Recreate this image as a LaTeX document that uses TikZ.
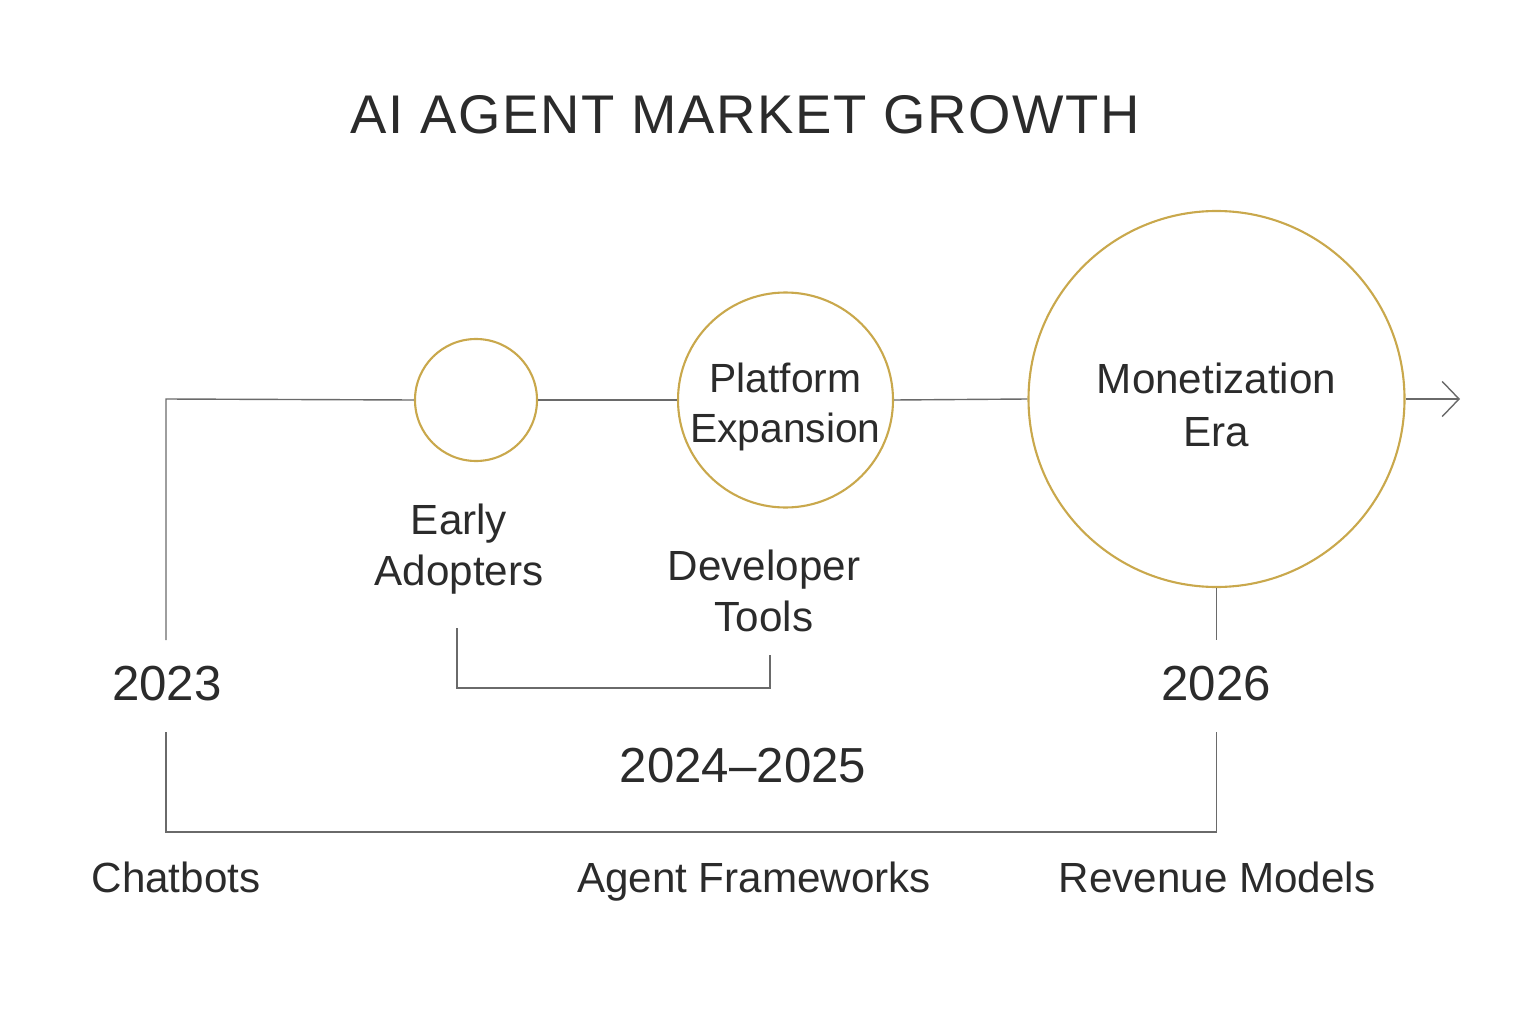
\documentclass[tikz,border=0pt]{standalone}
\usepackage{fontspec}
\setmainfont{Liberation Sans}
\newfontfamily\titlefont[LetterSpace=3]{Liberation Sans}
\usetikzlibrary{arrows.meta}
\definecolor{gold}{HTML}{C9A84C}
\definecolor{ink}{HTML}{2B2B2B}
\definecolor{rule}{HTML}{6A6A6A}
\tikzset{
  stage/.style={circle,draw=gold,line width=0.6pt,inner sep=0pt},
  lbl/.style={text=ink,align=center,font=\fontsize{12}{14.4}\selectfont},
  yr/.style={text=ink,font=\fontsize{14}{16}\selectfont},
  line/.style={draw=rule,line width=0.4pt}
}
\begin{document}
\begin{tikzpicture}
  \useasboundingbox (0,0) rectangle (15.36,10.24);
  \node[text=ink,font=\titlefont\fontsize{15.5}{18}\selectfont] (title) at (7.45,9.09) {AI AGENT MARKET GROWTH};

  % stages on the main line
  \node[stage,minimum size=1.22cm] (early) at (4.76,6.24) {};
  \node[stage,minimum size=2.15cm] (platform) at (7.855,6.24) {};
  \node[stage,minimum size=3.76cm] (money) at (12.165,6.25) {};
  \node[lbl,font=\fontsize{11.6}{14.2}\selectfont] (platformtxt) at ([yshift=-0.07cm]platform.center) {Platform\\Expansion};
  \node[lbl,font=\fontsize{12}{15}\selectfont] (moneytxt) at ([yshift=-0.06cm]money.center) {Monetization\\Era};

  \coordinate (start) at (1.66,3.84);
  \coordinate (corner) at (1.66,6.25);
  \coordinate (tip) at (14.60,6.25);
  \coordinate (drop) at (12.165,3.84);

  \draw[line] (start) -- (corner) -- (early.west);
  \draw[line] (early.east) -- (platform.west);
  \draw[line] (platform.east) -- (money.west);
  \draw[line,-{Straight Barb[length=4.8pt,width=10pt]}] (money.east) -- (tip);
  \draw[line] (money.south) -- (drop);

  \node[lbl] (adopters) at (4.59,4.75) {Early\\Adopters};
  \node[lbl] (devtools) at (7.64,4.33) {Developer\\Tools};

  % small bracket
  \coordinate (b1) at (4.57,3.96);
  \coordinate (b2) at (4.57,3.36);
  \coordinate (b3) at (7.70,3.36);
  \coordinate (b4) at (7.70,3.69);
  \draw[line] (b1) -- (b2) -- (b3) -- (b4);

  \node[yr] (y2023) at (1.67,3.40) {2023};
  \node[yr] (y2026) at (12.16,3.40) {2026};
  \node[yr] (ymid) at (7.43,2.58) {2024–2025};

  % long bracket
  \coordinate (l1) at (1.66,2.92);
  \coordinate (l2) at (1.66,1.92);
  \coordinate (l3) at (12.165,1.92);
  \coordinate (l4) at (12.165,2.92);
  \draw[line] (l1) -- (l2) -- (l3) -- (l4);

  \node[lbl,anchor=base] (chat) at (1.76,1.32) {Chatbots};
  \node[lbl,anchor=base] (frame) at (7.54,1.32) {Agent Frameworks};
  \node[lbl,anchor=base] (rev) at (12.17,1.32) {Revenue Models};
\end{tikzpicture}
\end{document}
